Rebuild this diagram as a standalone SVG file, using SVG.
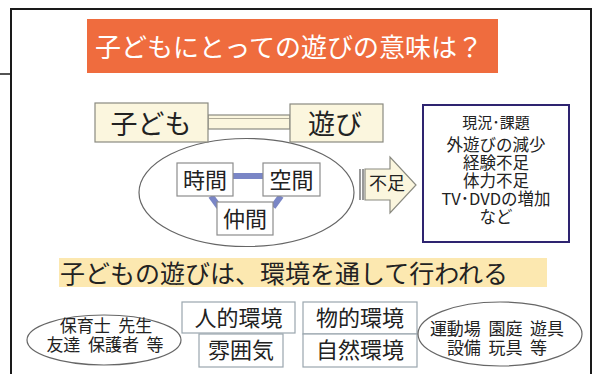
<svg xmlns="http://www.w3.org/2000/svg" width="596" height="374" viewBox="0 0 596 374">
<style>
text{font-family:"Noto Sans CJK JP","Noto Sans CJK SC",sans-serif;fill:#222;text-anchor:middle;white-space:pre}
.cream{fill:#FBF6DE;stroke:#8a8a80;stroke-width:1.2}
.wbox{fill:#fff;stroke:#8d8d8d;stroke-width:1.2}
.bbox{fill:#fff;stroke:#9aa6ae;stroke-width:1.2}
.bar{stroke:#7A86C6;stroke-width:6;fill:none}
.ell{fill:#fff;stroke:#666;stroke-width:1.2}
</style>
<rect x="0" y="0" width="596" height="374" fill="#fff"/>
<g id="frame">
<rect x="11" y="9" width="580" height="380" fill="#fff" stroke="#1a1a1a" stroke-width="2"/>
<line x1="0" y1="74" x2="11" y2="74" stroke="#1a1a1a" stroke-width="1.5"/>
</g>
<g id="title">
<rect x="87" y="19" width="411" height="54" fill="#EF6C3E"/>
<text x="289" y="57" font-size="26" style="fill:#fff">子どもにとっての遊びの意味は？</text>
</g>
<g id="ellipse">
<ellipse cx="246.5" cy="192.5" rx="107.5" ry="54" class="ell"/>
</g>
<g id="connectors">
<rect x="208" y="115" width="82" height="14" class="cream"/>
<line x1="208" y1="118.5" x2="290" y2="118.5" stroke="#b0ab98" stroke-width="1"/>
<line x1="233" y1="176" x2="263" y2="176" class="bar"/>
<line x1="211" y1="196" x2="219" y2="207" class="bar"/>
<line x1="281" y1="196" x2="273" y2="207" class="bar"/>
</g>
<g id="kodomo">
<rect x="95" y="103" width="113" height="39" class="cream"/>
<text x="151" y="134" font-size="27">子ども</text>
</g>
<g id="asobi">
<rect x="290" y="104" width="93" height="38" class="cream"/>
<text x="335" y="134" font-size="27">遊び</text>
</g>
<g id="jikan">
<rect x="177" y="163" width="56" height="33" class="wbox"/>
<text x="205" y="187.5" font-size="22">時間</text>
</g>
<g id="kukan">
<rect x="263" y="163" width="57" height="33" class="wbox"/>
<text x="291.5" y="187.5" font-size="22">空間</text>
</g>
<g id="nakama">
<rect x="217" y="202" width="56" height="33" class="wbox"/>
<text x="245" y="226.5" font-size="22">仲間</text>
</g>
<g id="fusoku">
<rect x="359" y="169" width="2" height="31" fill="#999"/>
<rect x="362" y="169" width="2" height="31" fill="#999"/>
<polygon points="365,169 390,169 390,157 416,185 390,213 390,200 365,200" class="cream"/>
<text x="387" y="190" font-size="18">不足</text>
</g>
<g id="genkyo">
<rect x="423" y="105" width="146" height="137" fill="#fff" stroke="#2E2470" stroke-width="2"/>
<text x="496" y="127.5" font-size="15">現況･課題</text>
<text font-size="16.5"><tspan x="496" y="151">外遊びの減少</tspan><tspan x="496" y="169">経験不足</tspan><tspan x="496" y="187">体力不足</tspan><tspan x="496" y="205">TV･DVDの増加</tspan><tspan x="496" y="223">など</tspan></text>
</g>
<g id="subtitle">
<rect x="59" y="258" width="488" height="29" fill="#FCE8B0"/>
<text x="60" y="283" font-size="25" style="text-anchor:start">子どもの遊びは、環境を通して行われる</text>
</g>
<g id="left-ellipse">
<ellipse cx="104" cy="340" rx="77" ry="25" class="ell"/>
<text x="106" y="332" font-size="17">保育士  先生</text>
<text x="105" y="351" font-size="17">友達  保護者  等</text>
</g>
<g id="jinteki">
<rect x="182" y="302" width="113" height="31" class="bbox"/>
<text x="238.5" y="326" font-size="22">人的環境</text>
</g>
<g id="funiki">
<rect x="199" y="334" width="84" height="33" class="bbox"/>
<text x="241" y="358" font-size="22">雰囲気</text>
</g>
<g id="butteki">
<rect x="303" y="302" width="114" height="32" class="bbox"/>
<text x="360" y="326" font-size="22">物的環境</text>
</g>
<g id="shizen">
<rect x="303" y="334" width="114" height="33" class="bbox"/>
<text x="360" y="358" font-size="22">自然環境</text>
</g>
<g id="right-ellipse">
<ellipse cx="500" cy="334" rx="82" ry="32" class="ell"/>
<text x="497" y="335" font-size="17">運動場  園庭  遊具</text>
<text x="497" y="354" font-size="17">設備  玩具  等</text>
</g>
</svg>
